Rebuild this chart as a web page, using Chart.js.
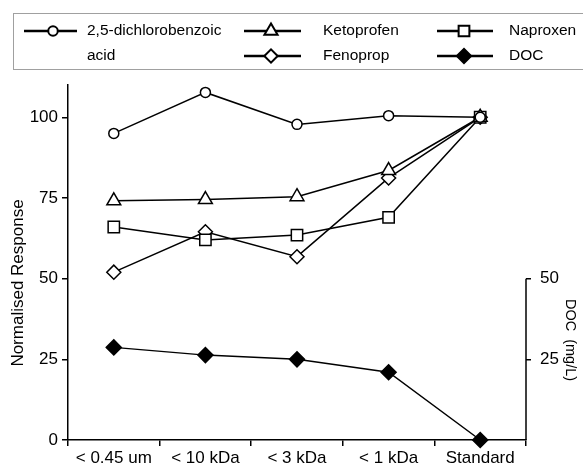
<!DOCTYPE html>
<html>
<head>
<meta charset="utf-8">
<script src="https://cdn.jsdelivr.net/npm/chart.js"></script>
<style>
  html, body { margin: 0; padding: 0; background: #fff; }
  #wrap { width: 583px; height: 469px; position: relative; }
</style>
</head>
<body>
<div id="wrap"><canvas id="chart"></canvas></div>
<script>
// data
const categories = ['< 0.45 um', '< 10 kDa', '< 3 kDa', '< 1 kDa', 'Standard'];
const dichlorobenzoic = [95, 107.7, 97.8, 100.5, 100];
const ketoprofen = [74.1, 74.5, 75.4, 83.5, 100];
const naproxen = [66, 62, 63.5, 69, 100];
const fenoprop = [52, 64.5, 56.8, 81.2, 100];
const doc = [28.7, 26.3, 25, 21, 0];

const responseTicks = [0, 25, 50, 75, 100];
const docTicks = [25, 50];

const FONT = '"Liberation Sans", Arial, Helvetica, sans-serif';

function series(label, data, style, radius, fill, axis) {
    return {
        label: label,
        data: data,
        yAxisID: axis || 'y',
        borderColor: '#000',
        borderWidth: 1.5,
        pointStyle: style,
        pointRadius: radius,
        pointHoverRadius: radius,
        pointBorderWidth: 1.5,
        pointBorderColor: '#000',
        pointBackgroundColor: fill,
        tension: 0,
        clip: false
    };
}

const datasets = [
    series('2,5-dichlorobenzoic acid', dichlorobenzoic, 'circle', 5, '#fff'),
    series('Ketoprofen', ketoprofen, 'triangle', 8, '#fff'),
    series('Naproxen', naproxen, 'rect', 8, '#fff'),
    series('Fenoprop', fenoprop, 'rectRot', 7, '#fff'),
    series('DOC', doc, 'rectRot', 7.5, '#000', 'y2')
];

// legend slots: dataset index, line start/end, marker x, row y, text lines
const legendSlots = [
    { ds: 0, x0: 24, x1: 77, mx: 53, y: 31, tx: 87, text: ['2,5-dichlorobenzoic', 'acid'] },
    { ds: 1, x0: 244, x1: 301, mx: 271, y: 31, tx: 323, text: ['Ketoprofen'] },
    { ds: 2, x0: 437, x1: 493, mx: 464, y: 31, tx: 509, text: ['Naproxen'] },
    { ds: 3, x0: 244, x1: 301, mx: 271, y: 56, tx: 323, text: ['Fenoprop'] },
    { ds: 4, x0: 437, x1: 493, mx: 464, y: 56, tx: 509, text: ['DOC'] }
];

function drawMarker(ctx, ds, x, y, scale) {
    ctx.save();
    ctx.fillStyle = ds.pointBackgroundColor;
    ctx.strokeStyle = '#000';
    ctx.lineWidth = 2;
    Chart.helpers.drawPoint(ctx, {
        pointStyle: ds.pointStyle,
        rotation: 0,
        radius: ds.pointRadius * scale,
        borderWidth: 2
    }, x, y);
    ctx.restore();
}

const legendPlugin = {
    id: 'boxLegend',
    afterDraw(chart) {
        const ctx = chart.ctx;
        ctx.save();
        ctx.strokeStyle = '#a0a0a0';
        ctx.lineWidth = 1;
        ctx.strokeRect(13.5, 13.5, 600, 56);
        ctx.font = '15.5px ' + FONT;
        ctx.fillStyle = '#000';
        ctx.textBaseline = 'middle';
        legendSlots.forEach(slot => {
            const ds = chart.data.datasets[slot.ds];
            ctx.strokeStyle = '#000';
            ctx.lineWidth = 2.5;
            ctx.beginPath();
            ctx.moveTo(slot.x0, slot.y);
            ctx.lineTo(slot.x1, slot.y);
            ctx.stroke();
            drawMarker(ctx, ds, slot.mx, slot.y, 0.95);
            slot.text.forEach((t, i) => ctx.fillText(t, slot.tx, slot.y + i * 25));
        });
        ctx.restore();
    }
};

const axisExtras = {
    id: 'axisExtras',
    afterDraw(chart) {
        const ctx = chart.ctx;
        const y2 = chart.scales.y2;
        ctx.save();
        // right axis line only spans the DOC range
        ctx.strokeStyle = '#000';
        ctx.lineWidth = 1.5;
        ctx.beginPath();
        ctx.moveTo(y2.left, y2.getPixelForValue(0));
        ctx.lineTo(y2.left, y2.getPixelForValue(docTicks[docTicks.length - 1]));
        ctx.stroke();

        ctx.fillStyle = '#000';
        ctx.textAlign = 'center';
        ctx.textBaseline = 'middle';
        ctx.font = '17px ' + FONT;
        ctx.translate(18, 283);
        ctx.rotate(-Math.PI / 2);
        ctx.fillText('Normalised Response', 0, 0);
        ctx.restore();

        ctx.save();
        ctx.fillStyle = '#000';
        ctx.textAlign = 'center';
        ctx.textBaseline = 'middle';
        ctx.font = '14.5px ' + FONT;
        ctx.translate(570, 340);
        ctx.rotate(Math.PI / 2);
        ctx.fillText('DOC  (mg/L)', 0, 0);
        ctx.restore();
    }
};

const tickFont = { family: FONT, size: 17 };

new Chart(document.getElementById('chart'), {
    type: 'line',
    data: { labels: categories, datasets: datasets },
    options: {
        responsive: true,
        maintainAspectRatio: false,
        animation: false,
        devicePixelRatio: 1,
        layout: { padding: { top: 85, left: 0, right: 0, bottom: 0 } },
        plugins: {
            legend: { display: false },
            tooltip: { enabled: false }
        },
        scales: {
            x: {
                type: 'category',
                offset: true,
                grid: { offset: true, drawOnChartArea: false, drawTicks: true, tickLength: 6, color: '#000', lineWidth: 1.5 },
                border: { color: '#000', width: 1.5 },
                ticks: { color: '#000', font: tickFont, padding: 2, maxRotation: 0, autoSkip: false },
                afterFit: s => { s.height = 29; }
            },
            y: {
                type: 'linear',
                min: 0,
                max: 110,
                grid: { drawOnChartArea: false, drawTicks: true, tickLength: 6, color: '#000', lineWidth: 1.5 },
                border: { color: '#000', width: 1.5 },
                ticks: { color: '#000', font: tickFont, padding: 4 },
                afterBuildTicks: s => { s.ticks = responseTicks.map(v => ({ value: v })); },
                afterFit: s => { s.width = 68; }
            },
            y2: {
                type: 'linear',
                position: 'right',
                min: 0,
                max: 110,
                grid: { drawOnChartArea: false, drawTicks: true, tickLength: 5, color: '#000', lineWidth: 1.5 },
                border: { display: false },
                ticks: { color: '#000', font: tickFont, padding: 9 },
                afterBuildTicks: s => { s.ticks = docTicks.map(v => ({ value: v })); },
                afterFit: s => { s.width = 57; }
            }
        }
    },
    plugins: [legendPlugin, axisExtras]
});
</script>
</body>
</html>
